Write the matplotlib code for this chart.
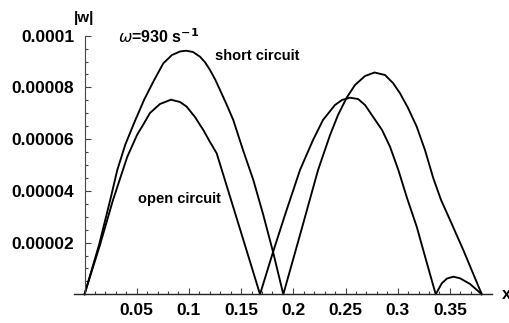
import numpy as np
import matplotlib
matplotlib.use('Agg')
import matplotlib.pyplot as plt
from matplotlib.ticker import FixedLocator

# |w| curves, y in units of 1e-5
x_short=[0,0.0139,0.0251,0.0314,0.0390,0.0474,0.0570,0.0666,0.0755,0.0838,0.0915,0.0972,0.1039,0.1106,0.1155,0.1202,0.1250,0.1298,0.1360,0.1425,0.1518,0.1617,0.1710,0.1806,0.1904,
 0.2064,0.2237,0.2352,0.2428,0.2511,0.2591,0.2687,0.2778,0.2878,0.2955,0.3022,0.3099,0.3182,0.3261,0.3341,0.3415,0.3501,0.3628,0.3712,0.3805]
y_short=[0,1.906,3.724,4.807,5.780,6.613,7.514,8.276,8.933,9.254,9.389,9.420,9.370,9.188,8.970,8.674,8.320,7.900,7.350,6.740,5.580,4.420,3.105,1.636,0,
 2.293,4.807,6.160,6.933,7.603,8.094,8.442,8.577,8.480,8.170,7.773,7.204,6.481,5.580,4.486,3.647,2.873,1.713,0.901,0]
x_open=[0,0.0148,0.0273,0.0410,0.0503,0.0570,0.0627,0.0723,0.0828,0.0915,0.0979,0.1058,0.1138,0.1202,0.1266,0.1330,0.1442,0.1566,0.1681,
 0.1803,0.1920,0.2064,0.2189,0.2284,0.2399,0.2466,0.2543,0.2620,0.2687,0.2763,0.2850,0.2926,0.3006,0.3089,0.3182,0.3271,0.3364,
 0.3422,0.3472,0.3533,0.3597,0.3693,0.3805]
y_open=[0,1.906,3.647,5.321,6.160,6.613,7.011,7.359,7.525,7.436,7.254,6.856,6.353,5.889,5.452,4.613,3.144,1.520,0,
 1.597,3.066,4.807,5.967,6.740,7.320,7.514,7.603,7.552,7.320,6.868,6.353,5.708,4.807,3.724,2.614,1.326,0,
 0.425,0.611,0.681,0.619,0.398,0]
xticks=[0.05,0.1,0.15,0.2,0.25,0.3,0.35]
xlabels=['0.05','0.1','0.15','0.2','0.25','0.3','0.35']
yticks=[2e-5,4e-5,6e-5,8e-5,1e-4]
ylabels=['0.00002','0.00004','0.00006','0.00008','0.0001']

plt.rcParams['font.family']=['Liberation Sans','DejaVu Sans']
fig=plt.figure(figsize=(5.1,3.23),dpi=100)
ax=fig.add_axes([74/510,1-294.3/323,(492-74)/510,(294.3-35.7)/323])
ax.set_xlim(-0.01006,0.3903)
ax.set_ylim(0,1e-4)
ax.plot(x_short,np.array(y_short)*1e-5,color='black',lw=1.35,clip_on=False,solid_joinstyle='round')
ax.plot(x_open,np.array(y_open)*1e-5,color='black',lw=1.35,clip_on=False,solid_joinstyle='round')

for s in ['top','right']:
 ax.spines[s].set_visible(False)
ax.spines['left'].set_position(('data',0))
ax.spines['bottom'].set_position(('data',0))
ax.spines['left'].set_color('#444444')
ax.spines['left'].set_linewidth(0.8)
ax.spines['bottom'].set_color('#222222')
ax.spines['bottom'].set_linewidth(1.0)

ax.xaxis.set_major_locator(FixedLocator(xticks))
ax.set_xticklabels(xlabels,fontsize=12.5,fontweight='bold')
ax.xaxis.set_minor_locator(FixedLocator([i/100 for i in range(1,39) if i%5]))
ax.yaxis.set_major_locator(FixedLocator(yticks))
ax.set_yticklabels(ylabels,fontsize=12.5,fontweight='bold')
ax.yaxis.set_minor_locator(FixedLocator([i*5e-6 for i in range(1,20) if i%4]))
ax.tick_params(which='both',direction='in',color='#444444',width=0.8)
ax.tick_params(which='major',length=4)
ax.tick_params(which='minor',length=2)
ax.tick_params(axis='x',which='major',pad=6.5)
ax.tick_params(axis='y',which='major',pad=7.5)

ax.text(0.165,9.215e-5,'short circuit',fontsize=10.5,fontweight='bold',ha='center',va='center')
ax.text(0.091,3.674e-5,'open circuit',fontsize=10.5,fontweight='bold',ha='center',va='center')
ax.text(0.032,9.706e-5,r'$\omega$=930 s$^{\mathbf{-1}}$',fontsize=11.5,fontweight='bold',ha='left',va='baseline')
ax.text(-0.0005,10.68e-5,'|w|',fontsize=11,fontweight='bold',ha='center',va='center',clip_on=False)
ax.text(0.4,0,'x',fontsize=12,fontweight='bold',ha='left',va='center',clip_on=False)

plt.savefig('out.png',dpi=100)
